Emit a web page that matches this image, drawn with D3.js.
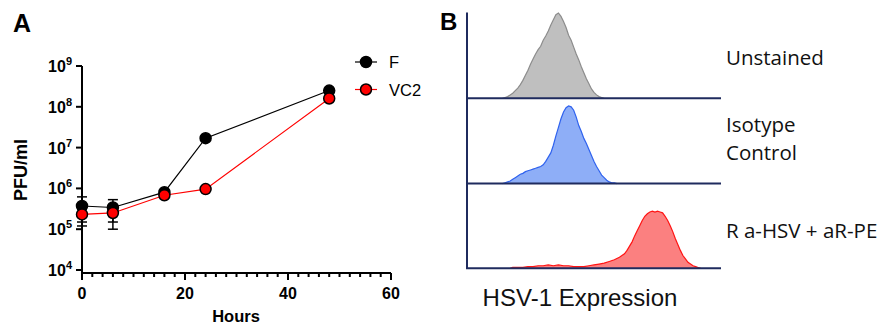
<!DOCTYPE html>
<html>
<head>
<meta charset="utf-8">
<script src="https://cdn.jsdelivr.net/npm/d3@7"></script>
<style>
  body { margin: 0; background: #fff; }
  svg { display: block; font-family: "Liberation Sans", Arial, sans-serif; }
</style>
</head>
<body>
<div id="chart"></div>
<script>
'use strict'
// panel A: growth curve
const hours = [0, 6, 16, 24, 48]
const pfuF = [3.7e5, 3.4e5, 8.1e5, 1.7e7, 2.5e8]
const sdF = [2.5e5, 1.9e5, 0, 0, 0]
const pfuVC2 = [2.3e5, 2.5e5, 6.8e5, 9.6e5, 1.6e8]
const sdVC2 = [0.8e5, 1.5e5, 0, 0, 0]
const yTicks = [1e4, 1e5, 1e6, 1e7, 1e8, 1e9]
const xTicks = [0, 20, 40, 60]
const seriesNames = ["F", "VC2"]

// panel B: flow histograms, [channel, % of max]
const histUnstained = [[14,0],[15,1],[16,2],[17,4],[18,6],[19,9],[20,12],[21,16],[22,21],[23,27],[24,33],[25,40],[26,46],[27,52],[28,57],[29,61],[30,68],[31,73],[32,79],[33,86],[34,92],[35,98],[36,100],[37,96],[38,90],[39,83],[40,74],[41,68],[42,60],[43,52],[44,45],[45,37],[46,30],[47,23],[48,17],[49,11],[50,7],[51,4],[52,2],[53,1],[54,0]]
const histIsotype = [[14,0],[15,1],[16,2],[17,3],[18,5],[19,7],[20,9],[21,11],[22,12],[23,14],[24,15],[25,16],[26,17],[27,18],[28,19],[29,20],[30,22],[31,26],[32,31],[33,36],[34,45],[35,56],[36,66],[37,76],[38,84],[39,89],[40,91],[41,90],[42,86],[43,78],[44,68],[45,61],[46,53],[47,47],[48,40],[49,33],[50,26],[51,20],[52,15],[53,10],[54,7],[55,4],[56,2],[57,1],[58,1],[59,0]]
const histStained = [[17,0],[18,1],[20,1],[22,1],[24,2],[26,2],[28,3],[30,3],[32,4],[34,3],[36,4],[38,3],[40,3],[42,2],[44,2],[46,2],[48,3],[50,4],[52,5],[54,6],[56,8],[58,10],[60,13],[62,17],[63,21],[64,26],[65,31],[66,38],[67,44],[68,50],[69,56],[70,61],[71,64],[72,66],[73,67],[74,66],[75,67],[76,66],[77,65],[78,61],[79,56],[80,50],[81,43],[82,35],[83,28],[84,21],[85,15],[86,11],[87,7],[88,5],[89,3],[90,2],[91,1],[92,0]]
const histLabels = [["Unstained"], ["Isotype", "Control"], ["R a-HSV + aR-PE"]]

const W = 877, H = 327
const svg = d3.select("#chart").append("svg")
  .attr("width", W).attr("height", H)

// ---------- panel A ----------
const x = d3.scaleLinear().domain([0, 60]).range([82, 391])
const y = d3.scaleLog().domain([1e4, 1e9]).range([270, 66])
const axisY0 = 273

svg.append("text").attr("x", 13).attr("y", 32)
  .attr("font-size", 25).attr("font-weight", "bold").text("A")

// y axis
const gy = svg.append("g").attr("transform", "translate(82,0)")
gy.append("line").attr("x1", 0).attr("x2", 0).attr("y1", 66).attr("y2", axisY0)
  .attr("stroke", "#000").attr("stroke-width", 2)
yTicks.forEach(v => {
  gy.append("line").attr("x1", -6).attr("x2", 0).attr("y1", y(v)).attr("y2", y(v))
    .attr("stroke", "#000").attr("stroke-width", 2)
  const t = gy.append("text").attr("x", -10).attr("y", y(v) + 6)
    .attr("text-anchor", "end").attr("font-size", 16).attr("font-weight", "bold")
  t.append("tspan").text("10")
  t.append("tspan").attr("dy", -7).attr("font-size", 11).text(Math.round(Math.log10(v)))
})

// x axis
const gx = svg.append("g").attr("transform", `translate(0,${axisY0})`)
gx.append("line").attr("x1", 82).attr("x2", 391).attr("y1", 0).attr("y2", 0)
  .attr("stroke", "#000").attr("stroke-width", 2)
d3.range(0, 61, 2).forEach(v => {
  const major = xTicks.includes(v)
  gx.append("line").attr("x1", x(v)).attr("x2", x(v)).attr("y1", 0).attr("y2", major ? 7 : 4)
    .attr("stroke", "#000").attr("stroke-width", 2)
})
xTicks.forEach(v => {
  gx.append("text").attr("x", x(v)).attr("y", 26).attr("text-anchor", "middle")
    .attr("font-size", 16).attr("font-weight", "bold").text(v)
})
svg.append("text").attr("x", 236).attr("y", 322).attr("text-anchor", "middle")
  .attr("font-size", 16.5).attr("font-weight", "bold").text("Hours")
svg.append("text").attr("transform", "translate(27,170) rotate(-90)")
  .attr("text-anchor", "middle").attr("font-size", 18).attr("font-weight", "bold").text("PFU/ml")

// series
const line = d3.line().x(d => x(d[0])).y(d => y(d[1]))
const series = [
  {vals: pfuF, sd: sdF, stroke: "#000", fill: "#000", r: 5.5},
  {vals: pfuVC2, sd: sdVC2, stroke: "#ff0000", fill: "#ff0000", r: 5.5}
]
series.forEach(s => {
  const pts = hours.map((h, i) => [h, s.vals[i]])
  svg.append("path").attr("d", line(pts)).attr("fill", "none")
    .attr("stroke", s.stroke).attr("stroke-width", 1.2)
})
series.forEach(s => {
  hours.forEach((h, i) => {
    if (!s.sd[i]) return
    const lo = s.vals[i] - s.sd[i], hi = s.vals[i] + s.sd[i]
    const g = svg.append("g").attr("stroke", "#000").attr("stroke-width", 1.5)
    g.append("line").attr("x1", x(h)).attr("x2", x(h)).attr("y1", y(lo)).attr("y2", y(hi))
    g.append("line").attr("x1", x(h) - 5).attr("x2", x(h) + 5).attr("y1", y(lo)).attr("y2", y(lo))
    g.append("line").attr("x1", x(h) - 5).attr("x2", x(h) + 5).attr("y1", y(hi)).attr("y2", y(hi))
  })
})
series.forEach(s => {
  hours.forEach((h, i) => {
    svg.append("circle").attr("cx", x(h)).attr("cy", y(s.vals[i])).attr("r", s.r)
      .attr("fill", s.fill).attr("stroke", "#000").attr("stroke-width", 1.5)
  })
})

// legend
seriesNames.forEach((name, i) => {
  const ly = 62 + i * 27.5
  const s = series[i]
  svg.append("line").attr("x1", 355).attr("x2", 377).attr("y1", ly).attr("y2", ly)
    .attr("stroke", s.stroke).attr("stroke-width", 1.2)
  svg.append("circle").attr("cx", 366).attr("cy", ly).attr("r", s.r)
    .attr("fill", s.fill).attr("stroke", "#000").attr("stroke-width", 1.5)
  svg.append("text").attr("x", 389).attr("y", ly + 6).attr("font-size", 16.5).text(name)
})

// ---------- panel B ----------
svg.append("text").attr("x", 440).attr("y", 30)
  .attr("font-size", 24).attr("font-weight", "bold").text("B")

const hx = d3.scaleLinear().domain([0, 100]).range([467, 721])
const panelTop = [13, 98.3, 183]
const panelH = 85.3
const hy = d3.scaleLinear().domain([0, 100]).range([panelH, 0])
const hists = [
  {data: histUnstained, fill: "#bfbfbf", stroke: "#8c8c8c"},
  {data: histIsotype, fill: "#8eaef7", stroke: "#2f62ee"},
  {data: histStained, fill: "#fb8080", stroke: "#ff1414"}
]
const area = d3.area().x(d => hx(d[0])).y0(panelH).y1(d => hy(d[1]))
const topLine = d3.line().x(d => hx(d[0])).y(d => hy(d[1]))

hists.forEach((h, i) => {
  const g = svg.append("g").attr("transform", `translate(0,${panelTop[i]})`)
  g.append("path").attr("d", area(h.data)).attr("fill", h.fill)
  g.append("path").attr("d", topLine(h.data)).attr("fill", "none")
    .attr("stroke", h.stroke).attr("stroke-width", 1.2)
  g.append("line").attr("x1", 466).attr("x2", 721).attr("y1", panelH).attr("y2", panelH)
    .attr("stroke", "#1f2b5e").attr("stroke-width", 2)
})
svg.append("line").attr("x1", 467).attr("x2", 467).attr("y1", 12.5).attr("y2", 269)
  .attr("stroke", "#1f2b5e").attr("stroke-width", 2)

const labelY = [[65], [132, 160], [238]]
histLabels.forEach((lines, i) => {
  lines.forEach((txt, j) => {
    svg.append("text").attr("x", 726).attr("y", labelY[i][j])
      .attr("font-family", "'Open Sans', 'Noto Sans', sans-serif")
      .attr("font-size", 20.5).attr("fill", "#111").text(txt)
  })
})
svg.append("text").attr("x", 580).attr("y", 306).attr("text-anchor", "middle")
  .attr("font-size", 24).attr("fill", "#111").text("HSV-1 Expression")
</script>
</body>
</html>
